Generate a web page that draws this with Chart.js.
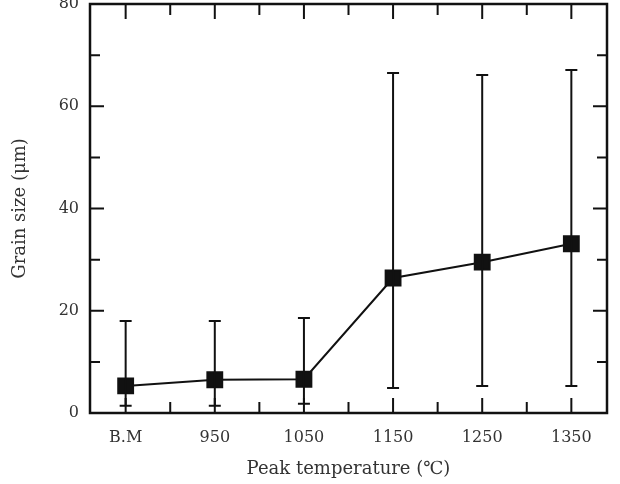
<!DOCTYPE html>
<html lang="en">
<head>
<meta charset="UTF-8">
<title>Grain size vs peak temperature</title>
<script src="https://cdn.jsdelivr.net/npm/chart.js"></script>
<style>
    body { margin: 0; background: #fff; }
    #wrap { width: 620px; height: 484px; }
</style>
</head>
<body>
<div id="wrap"><canvas id="grainChart" width="620" height="484"></canvas></div>
<script>
// data
const categories = ['B.M', '950', '1050', '1150', '1250', '1350'];
const grainMean  = [5.3, 6.5, 6.6, 26.4, 29.5, 33.1];
const grainUpper = [18.0, 18.0, 18.6, 66.5, 66.1, 67.1];
const grainLower = [1.4, 1.4, 1.8, 4.9, 5.3, 5.3];
const yTicks = [0, 20, 40, 60, 80];

const serif = '"DejaVu Serif", "Liberation Serif", serif';

// error bars, frame and inward ticks
const extras = {
    id: 'extras',
    afterDatasetsDraw(chart) {
        const { ctx, chartArea: a, scales: { x, y } } = chart;
        ctx.save();
        ctx.strokeStyle = '#111';
        ctx.lineWidth = 2;
        grainMean.forEach((m, i) => {
            const px = x.getPixelForValue(i);
            const top = y.getPixelForValue(grainUpper[i]);
            const bot = y.getPixelForValue(grainLower[i]);
            ctx.beginPath();
            ctx.moveTo(px, top); ctx.lineTo(px, bot);
            ctx.moveTo(px - 6, top); ctx.lineTo(px + 6, top);
            ctx.moveTo(px - 6, bot); ctx.lineTo(px + 6, bot);
            ctx.stroke();
        });

        ctx.lineWidth = 2.5;
        ctx.strokeRect(a.left, a.top, a.right - a.left, a.bottom - a.top);

        ctx.lineWidth = 2;
        ctx.beginPath();
        for (let v = 0; v <= 80; v += 10) {
            const py = y.getPixelForValue(v);
            const len = v % 20 === 0 ? 14 : 10;
            ctx.moveTo(a.left, py); ctx.lineTo(a.left + len, py);
            ctx.moveTo(a.right, py); ctx.lineTo(a.right - len, py);
        }
        for (let k = 0; k < categories.length * 2 - 1; k++) {
            const px = x.getPixelForValue(k / 2);
            const len = k % 2 === 0 ? 15 : 11;
            ctx.moveTo(px, a.bottom); ctx.lineTo(px, a.bottom - len);
            ctx.moveTo(px, a.top); ctx.lineTo(px, a.top + len);
        }
        ctx.stroke();
        ctx.restore();
    }
};

new Chart(document.getElementById('grainChart'), {
    type: 'line',
    data: {
        datasets: [{
            data: grainMean.map((v, i) => ({ x: i, y: v })),
            borderColor: '#111',
            borderWidth: 2,
            backgroundColor: '#111',
            pointStyle: 'rect',
            pointRadius: 10.5,
            pointHoverRadius: 10.5,
            tension: 0
        }]
    },
    options: {
        responsive: false,
        animation: false,
        layout: { autoPadding: false, padding: { top: 4, right: 13, left: 0, bottom: 0 } },
        plugins: { legend: { display: false }, tooltip: { enabled: false } },
        scales: {
            x: {
                type: 'linear',
                min: -0.4,
                max: 5.4,
                grid: { display: false },
                border: { display: false },
                afterBuildTicks: s => { s.ticks = categories.map((c, i) => ({ value: i })); },
                afterFit: s => { s.height = 71; s.paddingLeft = 0; s.paddingRight = 0; },
                ticks: {
                    padding: 7,
                    color: '#333',
                    font: { family: serif, size: 16 },
                    callback: v => categories[v]
                },
                title: {
                    display: true,
                    text: 'Peak temperature (℃)',
                    color: '#333',
                    font: { family: serif, size: 18 },
                    padding: { top: 3, bottom: 4 }
                }
            },
            y: {
                min: 0,
                max: 80,
                grid: { display: false },
                border: { display: false },
                afterBuildTicks: s => { s.ticks = yTicks.map(v => ({ value: v })); },
                afterFit: s => { s.width = 90; s.paddingTop = 0; s.paddingBottom = 0; },
                ticks: {
                    padding: 3,
                    color: '#333',
                    font: { family: serif, size: 16 }
                },
                title: {
                    display: true,
                    text: 'Grain size (μm)',
                    color: '#333',
                    font: { family: serif, size: 18 },
                    padding: { top: 10, bottom: 4 }
                }
            }
        }
    },
    plugins: [extras]
});
</script>
</body>
</html>
